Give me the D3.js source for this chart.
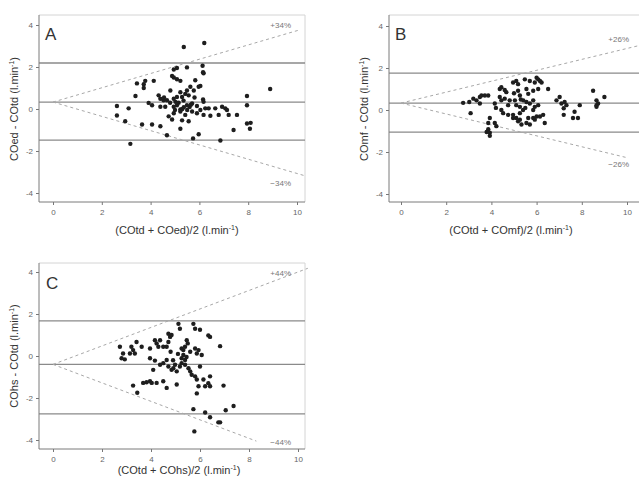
<!DOCTYPE html>
<html>
<head>
<meta charset="utf-8">
<script src="https://d3js.org/d3.v7.min.js"></script>
<style>
  body { margin: 0; background: #fff; }
  svg { font-family: "Liberation Sans", Arial, sans-serif; }
</style>
</head>
<body>
<script>
// tick values shared by all three panels
var xTicks = [0, 2, 4, 6, 8, 10];
var yTicks = [-4, -2, 0, 2, 4];

var panelLabels = ["A", "B", "C"];
var xTitles = ["(COtd + COed)/2 (l.min", "(COtd + COmf)/2 (l.min", "(COtd + COhs)/2 (l.min"];
var yTitles = ["COed - COtd (l.min", "COmf - COtd (l.min", "COhs - COtd (l.min"];

// bias, limits of agreement and percentage error lines
var bias = [0.33, 0.33, -0.4];
var upperLoA = [2.19, 1.76, 1.67];
var lowerLoA = [-1.48, -1.05, -2.76];
var pctError = [34, 26, 44];
var upperEnd = [10.1, 10.5, 10.4];   // x value where the dashed line stops
var lowerEnd = [10.3, 10.0, 8.3];

// [mean, difference]
var pointsA = [[5.36,2.95],[6.2,3.14],[5.08,1.95],[5.49,1.98],[6.13,2.06],[6.15,1.75],[6.17,1.7],[4.95,1.88],[4.88,1.57],[4.95,1.5],[5.22,1.34],[5.08,1.42],[3.44,1.22],[3.72,1.18],[3.78,1.34],[4.13,1.34],[3.72,1.0],[5.83,1.37],[5.63,1.06],[5.97,1.06],[6.04,1.1],[5.49,0.88],[5.22,0.8],[5.77,0.88],[4.81,0.88],[3.38,0.62],[4.33,0.65],[4.4,0.49],[4.67,0.42],[4.53,0.42],[4.95,0.49],[5.02,0.34],[5.08,0.57],[5.29,0.57],[5.42,0.72],[5.56,0.65],[6.15,0.45],[6.17,0.34],[7.95,0.62],[8.9,0.95],[3.92,0.29],[4.06,0.18],[4.4,0.11],[4.6,0.11],[2.62,0.14],[3.1,0.03],[4.95,0.11],[5.08,0.18],[5.22,-0.02],[5.36,0.08],[5.49,0.18],[5.7,0.26],[5.9,0.14],[6.04,-0.05],[6.24,0.03],[4.95,-0.2],[5.22,-0.12],[5.42,-0.28],[5.7,-0.12],[5.9,-0.2],[6.17,-0.28],[6.38,0.03],[6.65,0.03],[6.93,0.11],[7.06,0.03],[7.13,-0.05],[6.79,-0.28],[6.45,-0.32],[7.2,-0.28],[7.54,-0.28],[2.62,-0.31],[2.96,-0.58],[4.74,-0.35],[4.88,-0.5],[5.29,-0.54],[5.56,-0.58],[3.65,-0.74],[4.06,-0.74],[4.4,-0.82],[5.22,-0.94],[5.97,-1.2],[4.67,-1.25],[5.74,-1.4],[6.86,-1.5],[3.17,-1.66],[7.4,-1.0],[7.95,-0.69],[8.1,-0.66],[8.07,-0.94],[7.95,0.18],[5.15,0.3],[5.35,0.4],[5.6,0.1],[4.8,0.3],[5.0,-0.05],[5.8,0.55],[5.3,0.0],[5.5,-0.05],[4.55,0.55],[5.65,0.2]];

var pointsB = [[2.75,0.34],[3.02,0.38],[3.2,0.54],[3.34,0.46],[3.49,0.62],[3.56,0.69],[3.71,0.69],[3.86,0.69],[3.49,0.31],[3.08,-0.15],[4.15,0.31],[4.37,0.62],[4.37,1.0],[4.44,1.08],[4.59,0.95],[4.66,0.85],[4.44,0.46],[4.59,0.54],[4.81,0.46],[4.74,0.23],[3.93,-0.38],[4.15,-0.62],[4.22,-0.77],[3.86,-0.62],[3.86,-0.92],[3.93,-1.08],[3.93,-1.23],[3.79,-1.05],[4.44,0.0],[4.52,-0.15],[4.74,-0.23],[4.96,-0.38],[4.96,1.31],[5.18,1.23],[5.1,1.38],[5.18,0.92],[5.26,0.69],[5.04,0.46],[5.1,0.23],[5.26,0.15],[5.48,1.46],[5.7,1.38],[6.0,1.54],[6.07,1.46],[6.15,1.38],[6.22,1.31],[5.92,1.31],[5.55,1.0],[5.63,0.77],[5.85,0.92],[6.07,1.0],[6.51,1.0],[5.41,0.46],[5.55,0.38],[5.7,0.31],[5.85,0.46],[5.92,0.15],[6.07,0.23],[5.85,0.0],[4.96,-0.23],[5.1,-0.38],[5.18,-0.54],[5.26,-0.46],[5.33,-0.69],[5.55,-0.62],[5.7,-0.69],[5.63,-0.38],[5.85,-0.38],[5.92,-0.46],[6.0,-0.31],[6.15,-0.31],[6.29,-0.23],[6.36,-0.62],[5.26,-0.15],[6.88,0.46],[7.02,0.62],[7.1,0.31],[7.24,0.38],[7.32,0.23],[7.2,0.08],[7.2,-0.23],[7.61,-0.38],[7.68,-0.08],[7.83,-0.38],[7.91,0.23],[8.5,0.92],[8.65,0.46],[8.72,0.31],[8.65,0.23],[9.0,0.62],[8.65,0.15],[5.4,0.0],[5.5,0.1],[5.0,0.8],[4.2,0.1],[5.3,0.5]];

var pointsC = [[2.73,0.44],[2.8,-0.11],[2.93,-0.16],[2.86,0.12],[3.14,0.12],[3.27,0.28],[3.41,0.67],[3.2,0.44],[3.34,0.12],[3.62,0.44],[3.27,-1.41],[3.44,-1.75],[3.68,-1.28],[3.82,-1.25],[3.96,-1.2],[4.03,-1.28],[3.96,0.36],[4.16,0.75],[4.23,0.6],[4.3,0.44],[4.37,0.75],[4.5,0.44],[3.96,-0.11],[4.09,-0.66],[4.16,-0.22],[4.23,-1.28],[4.5,-1.2],[4.64,-1.52],[4.37,-0.42],[4.5,-0.34],[4.64,-0.19],[4.71,1.06],[4.78,0.91],[4.84,1.0],[4.71,0.67],[4.64,0.44],[4.71,-0.5],[4.84,-0.66],[4.91,-0.58],[5.05,-0.73],[4.98,-0.42],[5.05,-1.36],[5.12,1.53],[5.18,1.3],[5.25,0.36],[5.32,0.28],[5.39,0.44],[5.32,0.05],[5.25,-0.11],[5.39,-0.19],[5.25,-0.34],[5.18,-0.5],[5.39,-0.42],[5.53,-0.58],[5.6,-0.73],[5.46,0.75],[5.6,0.2],[5.8,0.36],[5.87,0.12],[5.94,0.28],[5.73,1.53],[5.8,1.3],[6.0,1.25],[5.66,-0.89],[5.8,-0.97],[5.87,-1.12],[5.94,-1.44],[5.87,-1.78],[5.73,-2.53],[6.0,-0.5],[6.07,0.05],[6.14,-1.12],[6.21,-1.44],[6.34,-1.3],[6.41,-0.97],[6.41,-1.44],[6.34,0.98],[6.41,0.91],[6.82,0.47],[6.96,-1.41],[6.21,-2.69],[6.41,-2.92],[6.75,-3.16],[6.82,-3.16],[7.37,-2.38],[7.05,-2.58],[5.77,-3.59],[5.1,0.1],[5.45,-0.05],[4.9,-0.2],[5.5,0.6],[4.8,0.2]];

var allPoints = [pointsA, pointsB, pointsC];

// pixel layout of the three panels
var layout = [
  {left: 39,  right: 305, top: 15,  bottom: 202, x0: 53,  x10: 297, y0: 109, unit: 21,
   letter: [45, 40], up: [291, 28], lo: [291, 186], xt: [177, 234], yt: [14, 109]},
  {left: 389, right: 640, top: 15,  bottom: 202, x0: 401, x10: 627, y0: 110, unit: 21,
   letter: [395, 40], up: [629, 42], lo: [629, 167], xt: [511, 234], yt: [364, 109]},
  {left: 39,  right: 305, top: 263, bottom: 449, x0: 53,  x10: 298, y0: 356, unit: 21,
   letter: [46, 289], up: [291, 276], lo: [291, 445], xt: [179, 474], yt: [14, 356]}
];

var width = 639, height = 481;
var svg = d3.select("body").append("svg")
  .attr("width", width)
  .attr("height", height);

var fmt = function(d) { return String(d); };

layout.forEach(function(L, i) {
  var x = d3.scaleLinear().domain([0, 10]).range([L.x0, L.x10]);
  var y = d3.scaleLinear().domain([0, 4]).range([L.y0, L.y0 - 4 * L.unit]);
  var g = svg.append("g");

  // light frame on top and right
  g.append("path")
    .attr("d", "M" + L.left + "," + L.top + "H" + L.right + "V" + L.bottom)
    .attr("fill", "none").attr("stroke", "#d4d4d4").attr("stroke-width", 1);

  // horizontal lines: bias and limits of agreement
  [bias[i], upperLoA[i], lowerLoA[i]].forEach(function(v) {
    g.append("line")
      .attr("x1", L.left).attr("x2", L.right)
      .attr("y1", y(v)).attr("y2", y(v))
      .attr("stroke", "#8a8a8a").attr("stroke-width", 1.3);
  });

  // percentage error lines
  var p = pctError[i] / 100;
  [[upperEnd[i], p], [lowerEnd[i], -p]].forEach(function(e) {
    g.append("line")
      .attr("x1", x(0)).attr("y1", y(bias[i]))
      .attr("x2", x(e[0])).attr("y2", y(bias[i] + e[1] * e[0]))
      .attr("stroke", "#a8a8a8").attr("stroke-width", 1)
      .attr("stroke-dasharray", "3,3");
  });

  // axes
  var yAxis = g.append("g")
    .attr("transform", "translate(" + L.left + ",0)")
    .call(d3.axisLeft(y).tickValues(yTicks).tickSize(3).tickPadding(3).tickFormat(fmt));
  var xAxis = g.append("g")
    .attr("transform", "translate(0," + L.bottom + ")")
    .call(d3.axisBottom(x).tickValues(xTicks).tickSize(3).tickPadding(4).tickFormat(fmt));
  [yAxis, xAxis].forEach(function(a) {
    a.select(".domain").remove();
    a.selectAll("line").attr("stroke", "#777");
    a.selectAll("text").attr("fill", "#666").style("font-size", "8px");
  });
  g.append("path")
    .attr("d", "M" + L.left + "," + L.top + "V" + L.bottom + "H" + L.right)
    .attr("fill", "none").attr("stroke", "#7a7a7a").attr("stroke-width", 1);

  // points
  g.selectAll("circle")
    .data(allPoints[i])
    .enter()
    .append("circle")
    .attr("cx", function(d) { return x(d[0]); })
    .attr("cy", function(d) { return y(d[1]); })
    .attr("r", 2.2)
    .attr("fill", "#1e1e1e");

  // panel letter and percentage labels
  g.append("text").attr("x", L.letter[0]).attr("y", L.letter[1])
    .text(panelLabels[i]).attr("fill", "#333").style("font-size", "17px");
  g.append("text").attr("x", L.up[0]).attr("y", L.up[1]).attr("text-anchor", "end")
    .text("+" + pctError[i] + "%").attr("fill", "#777").style("font-size", "8px");
  g.append("text").attr("x", L.lo[0]).attr("y", L.lo[1]).attr("text-anchor", "end")
    .text("\u2212" + pctError[i] + "%").attr("fill", "#777").style("font-size", "8px");

  // axis titles
  var xt = g.append("text").attr("x", L.xt[0]).attr("y", L.xt[1])
    .attr("text-anchor", "middle").attr("fill", "#333").style("font-size", "11px")
    .text(xTitles[i]);
  xt.append("tspan").attr("dy", -4).style("font-size", "7px").text("-1");
  xt.append("tspan").attr("dy", 4).text(")");

  var yt = g.append("text")
    .attr("transform", "translate(" + L.yt[0] + "," + L.yt[1] + ") rotate(-90)")
    .attr("text-anchor", "middle").attr("dy", "0.35em").attr("fill", "#333").style("font-size", "11px")
    .text(yTitles[i]);
  yt.append("tspan").attr("dy", -4).style("font-size", "7px").text("-1");
  yt.append("tspan").attr("dy", 4).text(")");
});
</script>
</body>
</html>
